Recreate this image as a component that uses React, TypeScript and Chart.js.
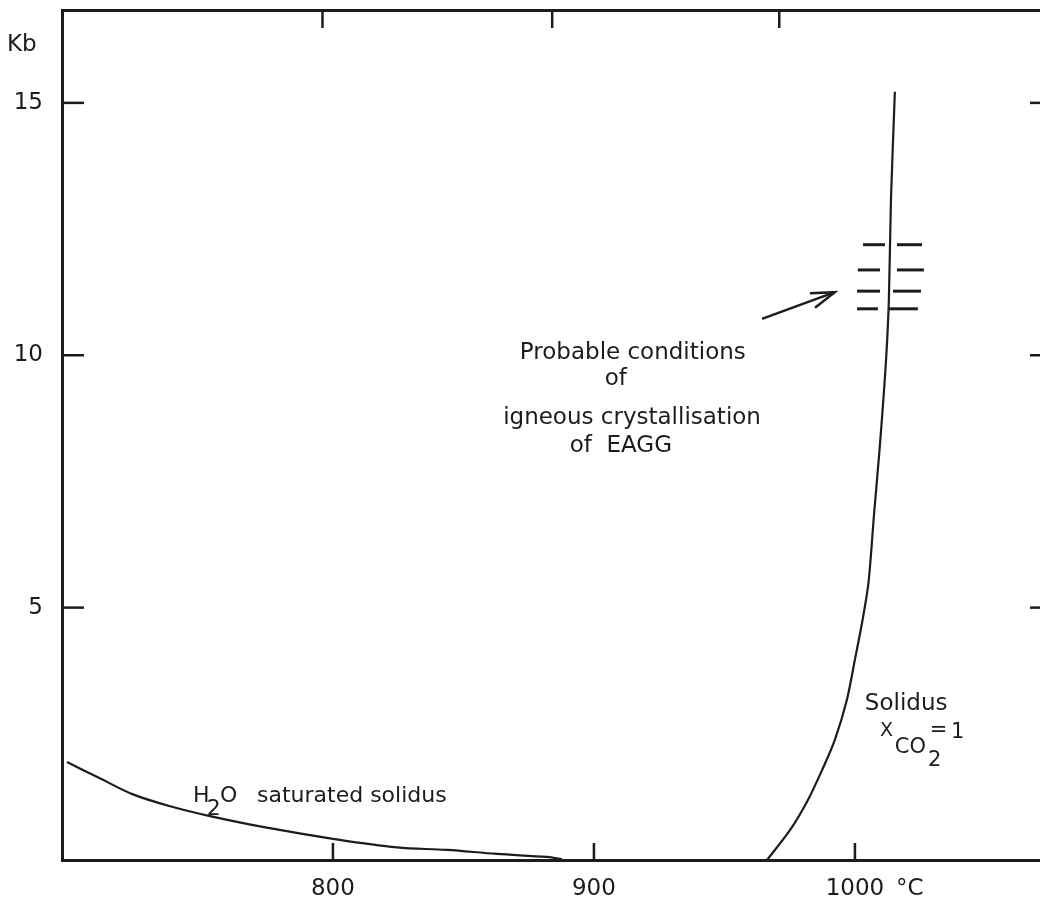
import { useEffect, useRef } from 'react';
import { Chart, registerables } from 'chart.js';

Chart.register(...registerables);

const ink = '#1c1c1c';
const fontFamily = '"DejaVu Sans", sans-serif';

// axis extents (temperature °C, pressure kb)
const xMin = 696.2;
const xMax = 1075.5;
const yMin = 0;
const yMax = 16.84;

// tick values
const xTickValues = [800, 900, 1000];
const xTopTickValues = [796, 884, 971];
const yTickValues = [5, 10, 15];

// H2O saturated solidus
const h2oT = [698.1, 710.7, 723.4, 738.0, 752.9, 774.7, 800.0, 824.5, 843.7, 862.8, 882.0, 887.7];
const h2oP = [1.94, 1.62, 1.3, 1.06, 0.87, 0.64, 0.42, 0.25, 0.2, 0.12, 0.06, 0.02];

// Solidus X_CO2 = 1
const solT = [1015.3, 1013.8, 1013.0, 1011.9, 1009.6, 1007.3, 1005.2, 1002.9, 1000.1, 996.9, 992.3, 987.4, 982.0, 975.1, 966.3];
const solP = [15.22, 13.08, 11.1, 9.89, 8.24, 6.84, 5.5, 4.75, 4.0, 3.17, 2.38, 1.78, 1.19, 0.59, 0.0];

// probable conditions dashes
const dashP = [12.19, 11.69, 11.27, 10.92];
const dashLeftFrom = [1003.1, 1001.1, 1000.8, 1000.8];
const dashLeftTo = [1011.5, 1009.6, 1009.6, 1008.8];
const dashRightFrom = [1016.1, 1016.1, 1014.6, 1013.0];
const dashRightTo = [1025.7, 1026.4, 1025.3, 1024.1];

// arrow
const arrowT = [964.4, 992.3];
const arrowP = [10.72, 11.25];
const arrowHeadT = [982.8, 992.3, 984.7];
const arrowHeadP = [11.23, 11.25, 10.94];

// text annotations (anchored in data coordinates)
const textLabels = [
  { text: 'Kb', T: 680.8, P: 16.15, size: 23, align: 'center' },
  { text: '°C', T: 1015.7, P: -0.575, size: 23, align: 'left' },
  { text: 'Probable conditions', T: 914.9, P: 10.05, size: 23, align: 'center' },
  { text: 'of', T: 908.4, P: 9.53, size: 23, align: 'center' },
  { text: 'igneous crystallisation', T: 914.6, P: 8.76, size: 23, align: 'center' },
  { text: 'of  EAGG', T: 910.3, P: 8.2, size: 23, align: 'center' },
  { text: 'H', T: 746.4, P: 1.27, size: 22, align: 'left' },
  { text: '2', T: 751.7, P: 1.01, size: 22, align: 'left' },
  { text: 'O', T: 756.7, P: 1.27, size: 22, align: 'left' },
  { text: 'saturated solidus', T: 770.9, P: 1.27, size: 22, align: 'left' },
  { text: 'Solidus', T: 1003.8, P: 3.09, size: 23, align: 'left' },
  { text: 'X', T: 1009.6, P: 2.56, size: 19, align: 'left' },
  { text: 'CO', T: 1015.3, P: 2.22, size: 21, align: 'left' },
  { text: '2', T: 1028.0, P: 1.98, size: 21, align: 'left' },
  { text: '=', T: 1028.7, P: 2.56, size: 21, align: 'left' },
  { text: '1', T: 1036.8, P: 2.52, size: 21, align: 'left' },
];

const tickLengths: Record<string, number> = { x: 17, xTop: 18, y: 22, yRight: 22 };

const inwardTicks = {
  id: 'inwardTicks',
  afterDatasetsDraw(chart: any) {
    const { ctx, chartArea: ca } = chart;
    ctx.save();
    ctx.strokeStyle = ink;
    ctx.lineWidth = 2.5;
    Object.keys(tickLengths).forEach((id) => {
      const scale = chart.scales[id];
      if (!scale) return;
      const len = tickLengths[id];
      scale.ticks.forEach((t: any) => {
        const p = scale.getPixelForValue(t.value);
        ctx.beginPath();
        if (scale.position === 'bottom') {
          ctx.moveTo(p, ca.bottom);
          ctx.lineTo(p, ca.bottom - len);
        } else if (scale.position === 'top') {
          ctx.moveTo(p, ca.top);
          ctx.lineTo(p, ca.top + len);
        } else if (scale.position === 'left') {
          ctx.moveTo(ca.left, p);
          ctx.lineTo(ca.left + len, p);
        } else {
          ctx.moveTo(ca.right, p);
          ctx.lineTo(ca.right - len, p);
        }
        ctx.stroke();
      });
    });
    ctx.restore();
  },
};

const annotationText = {
  id: 'annotationText',
  afterDraw(chart: any) {
    const { ctx } = chart;
    const xs = chart.scales.x;
    const ys = chart.scales.y;
    ctx.save();
    ctx.fillStyle = ink;
    ctx.textBaseline = 'middle';
    textLabels.forEach((l) => {
      ctx.font = `${l.size}px ${fontFamily}`;
      ctx.textAlign = l.align;
      ctx.fillText(l.text, xs.getPixelForValue(l.T), ys.getPixelForValue(l.P));
    });
    ctx.restore();
  },
};

const whiteBg = {
  id: 'whiteBg',
  beforeDraw(chart: any) {
    const { ctx, width, height } = chart;
    ctx.save();
    ctx.fillStyle = '#ffffff';
    ctx.fillRect(0, 0, width, height);
    ctx.restore();
  },
};

function series(xs: number[], ys: number[], width: number, tension = 0) {
  return {
    data: xs.map((x, i) => ({ x, y: ys[i] })),
    borderColor: ink,
    backgroundColor: ink,
    borderWidth: width,
    pointRadius: 0,
    showLine: true,
    fill: false,
    tension,
  };
}

const noPad = (s: any) => {
  s.paddingTop = 0;
  s.paddingBottom = 0;
  s.paddingLeft = 0;
  s.paddingRight = 0;
};

export default function App() {
  const ref = useRef<HTMLCanvasElement>(null);

  useEffect(() => {
    const datasets: any[] = [
      series(h2oT, h2oP, 2.2, 0.35),
      series(solT, solP, 2.2, 0.3),
      series(arrowT, arrowP, 2.5),
      series(arrowHeadT, arrowHeadP, 2.5),
    ];
    dashP.forEach((p, i) => {
      datasets.push(series([dashLeftFrom[i], dashLeftTo[i]], [p, p], 3));
      datasets.push(series([dashRightFrom[i], dashRightTo[i]], [p, p], 3));
    });

    const tickFont = { family: fontFamily, size: 23 };
    const chart = new Chart(ref.current!, {
      type: 'scatter',
      data: { datasets },
      plugins: [whiteBg, inwardTicks, annotationText],
      options: {
        responsive: false,
        devicePixelRatio: 1,
        animation: false,
        layout: { padding: 0 },
        plugins: { legend: { display: false }, tooltip: { enabled: false } },
        scales: {
          x: {
            type: 'linear',
            position: 'bottom',
            min: xMin,
            max: xMax,
            afterBuildTicks: (s: any) => {
              s.ticks = xTickValues.map((v) => ({ value: v }));
            },
            afterFit: (s: any) => {
              s.height = 46;
              noPad(s);
            },
            grid: { display: false, drawTicks: false },
            border: { display: true, width: 3, color: ink },
            ticks: {
              font: tickFont,
              color: ink,
              padding: 15,
              maxRotation: 0,
              autoSkip: false,
              callback: (v: any) => String(v),
            },
          },
          xTop: {
            type: 'linear',
            position: 'top',
            min: xMin,
            max: xMax,
            afterBuildTicks: (s: any) => {
              s.ticks = xTopTickValues.map((v) => ({ value: v }));
            },
            afterFit: (s: any) => {
              s.height = 10;
              noPad(s);
            },
            grid: { display: false, drawTicks: false },
            border: { display: true, width: 3, color: ink },
            ticks: { display: false },
          },
          y: {
            type: 'linear',
            position: 'left',
            min: yMin,
            max: yMax,
            afterBuildTicks: (s: any) => {
              s.ticks = yTickValues.map((v) => ({ value: v }));
            },
            afterFit: (s: any) => {
              s.width = 62;
              noPad(s);
            },
            grid: { display: false, drawTicks: false },
            border: { display: true, width: 3, color: ink },
            ticks: {
              font: tickFont,
              color: ink,
              padding: 19,
              callback: (v: any) => String(v),
            },
          },
          yRight: {
            type: 'linear',
            position: 'right',
            min: yMin,
            max: yMax,
            afterBuildTicks: (s: any) => {
              s.ticks = yTickValues.map((v) => ({ value: v }));
            },
            afterFit: (s: any) => {
              s.width = 18;
              noPad(s);
            },
            grid: { display: false, drawTicks: false },
            border: { display: true, width: 3, color: ink },
            ticks: { display: false },
          },
        },
      } as any,
    });
    return () => chart.destroy();
  }, []);

  return (
    <div
      style={{
        position: 'fixed',
        left: 0,
        top: 0,
        width: 1040,
        height: 906,
        overflow: 'hidden',
        background: '#ffffff',
      }}
    >
      <canvas ref={ref} width={1070} height={906} style={{ display: 'block', width: 1070, height: 906 }} />
    </div>
  );
}
